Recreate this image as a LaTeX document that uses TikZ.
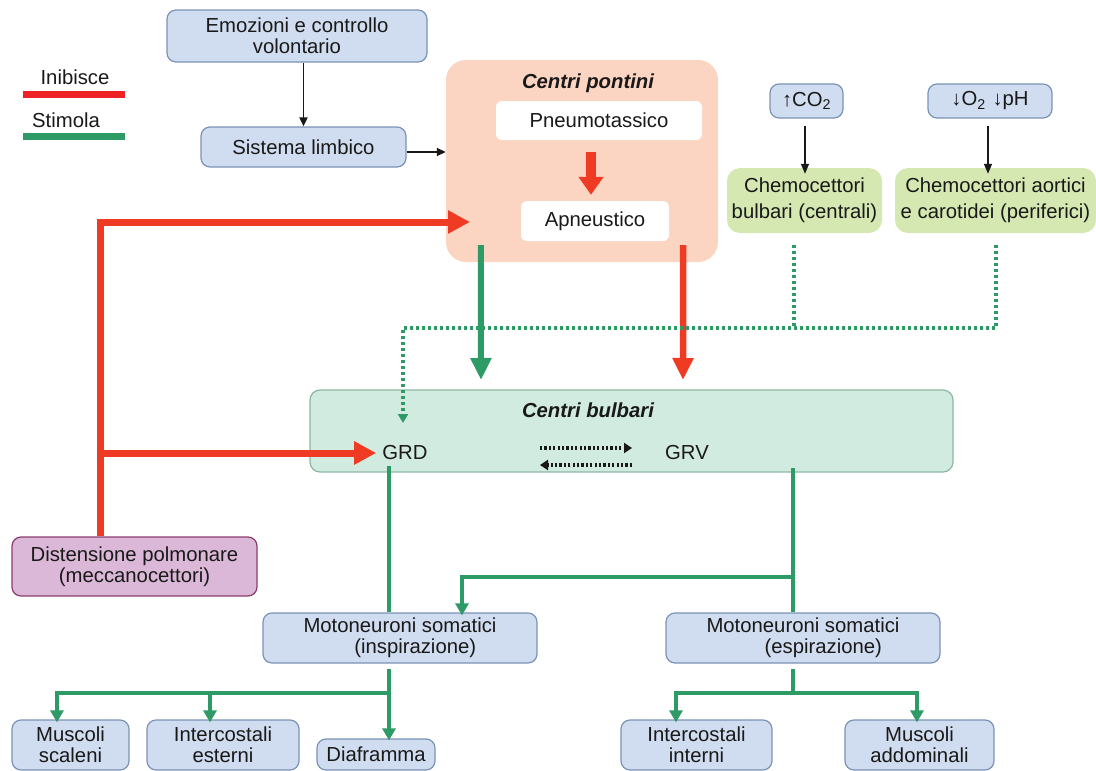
\documentclass[tikz,border=0pt]{standalone}
\usepackage{fontspec}
\setmainfont{Liberation Sans}
\usetikzlibrary{arrows.meta}
\definecolor{bfill}{HTML}{D0DCEF}
\definecolor{bdraw}{HTML}{7B93B6}
\definecolor{peach}{HTML}{FCD5C2}
\definecolor{chem}{HTML}{D5E8B1}
\definecolor{bulbfill}{HTML}{D2EBE0}
\definecolor{bulbdraw}{HTML}{8DB7A4}
\definecolor{distfill}{HTML}{DBB8D7}
\definecolor{distdraw}{HTML}{8A3D6E}
\definecolor{gline}{HTML}{2E9B67}
\definecolor{rline}{HTML}{EF3B24}
\definecolor{legred}{HTML}{EE2124}
\begin{document}
\begin{tikzpicture}[x=1pt,y=-1pt,
  txt/.style={font=\fontsize{20.3}{21}\selectfont, text=black!90, inner sep=0pt, align=center},
  bbox/.style={txt, draw=bdraw, line width=1.2pt, fill=bfill, rounded corners=9pt},
  wbox/.style={txt, fill=white, rounded corners=6pt},
  cbox/.style={txt, fill=chem, rounded corners=13pt, font=\fontsize{20.3}{26}\selectfont},
  blk/.style={line width=1.8pt, black!90, -{Triangle[width=8pt,length=9pt]}},
  gthin/.style={line width=4pt, gline},
  garr/.style={gthin, -{Triangle[width=13pt,length=12pt]}},
  gbig/.style={line width=6pt, gline, -{Triangle[width=20pt,length=22pt]}},
  rbig/.style={line width=6.5pt, rline, -{Triangle[width=20pt,length=22pt]}},
  rthick/.style={line width=7pt, rline},
  gdot/.style={line width=3.5pt, gline, dash pattern=on 3pt off 3pt},
  kdot/.style={line width=3.5pt, black!90, dash pattern=on 2.2pt off 2.2pt}]
\useasboundingbox (0,0) rectangle (1096,771);

% legend
\node[txt] (linib) at (75,77) {Inibisce};
\node[txt] (lstim) at (66,120) {Stimola};
\draw[line width=7pt, legred] (23,94) -- (125,94);
\draw[line width=7pt, gline] (23,136) -- (125,136);

% top left
\node[bbox, minimum width=260pt, minimum height=52pt] (emo) at (297,36) {Emozioni e controllo\\volontario};
\node[bbox, minimum width=205pt, minimum height=40pt] (limb) at (303.5,147) {Sistema limbico};

% pontini
\node[fill=peach, rounded corners=20pt, minimum width=272pt, minimum height=202pt, inner sep=0pt] (pont) at (582,161) {};
\node[txt, font=\fontsize{20.3}{21}\selectfont\bfseries\itshape] (pontlab) at (588,83) {Centri pontini};
\node[wbox, minimum width=206pt, minimum height=39pt] (pneu) at (599,120.5) {Pneumotassico};
\node[wbox, minimum width=148pt, minimum height=40pt] (apn) at (595,221) {Apneustico};
\draw[line width=10pt, rline, -{Triangle[width=24pt,length=18pt]}] ([yshift=-12pt]pneu.south -| 591,0) -- ([yshift=6pt]apn.north -| 591,0);

\draw[blk] (limb.north |- emo.south) -- (limb.north);
\draw[blk] (limb.east |- 0,152) -- (pont.west |- 0,152);

% chemoreceptors
\node[bbox, minimum width=73pt, minimum height=34pt] (co2) at (806.5,101) {↑CO\textsubscript{2}};
\node[bbox, minimum width=124pt, minimum height=34pt] (o2) at (990,101) {↓O\textsubscript{2}\,\,↓pH};
\node[cbox, minimum width=155pt, minimum height=65pt] (chb) at (804.5,200.5) {Chemocettori\\bulbari (centrali)};
\node[cbox, minimum width=201pt, minimum height=65pt] (cha) at (995.5,200.5) {Chemocettori aortici\\e carotidei (periferici)};
\draw[line width=1.4pt, black!90, -{Triangle[width=8pt,length=10pt]}] ([yshift=-7pt]co2.south -| 805,0) -- ([yshift=-6pt]chb.north -| 805,0);
\draw[line width=1.4pt, black!90, -{Triangle[width=8pt,length=10pt]}] ([yshift=-7pt]o2.south -| 988,0) -- ([yshift=-6pt]cha.north -| 988,0);

% bulbari
\node[txt, draw=bulbdraw, line width=1.2pt, fill=bulbfill, rounded corners=10pt, minimum width=643pt, minimum height=82pt] (bulb) at (631.5,431) {};
\node[txt, font=\fontsize{20.3}{21}\selectfont\bfseries\itshape] (bulblab) at (588,410) {Centri bulbari};
\node[txt] (grd) at (405,453) {GRD};
\node[txt] (grv) at (687,453) {GRV};
\draw[kdot, -{Triangle[width=10pt,length=8pt]}] (540,448) -- (632,448);
\draw[kdot, -{Triangle[width=10pt,length=8pt]}] (632,465) -- (540,465);

% pontini to bulbari
\draw[gbig] ([xshift=35pt, yshift=17pt]pont.south west) -- (481,380);
\draw[rbig] ([xshift=-35pt, yshift=17pt]pont.south east) -- (683,380);

% dotted chemo lines
\draw[gdot] ([yshift=-12pt]chb.south -| 794,0) -- (794,328);
\draw[gdot, -{Triangle[width=10pt,length=9pt]}] ([yshift=-12pt]cha.south -| 996,0) -- (996,328) -- (403,328) -- (403,423);

% distension
\node[bbox, draw=distdraw, fill=distfill, minimum width=245pt, minimum height=59pt] (dist) at (134.5,566.5) {Distensione polmonare\\(meccanocettori)};
\draw[rthick, -{Triangle[width=22pt,length=22pt]}] (dist.north -| 100,0) -- (100,222) -- (470,222);
\draw[rthick, -{Triangle[width=22pt,length=22pt]}] (grd.west -| 100,0) -- ([xshift=-6pt]grd.west);

% motoneurons
\node[bbox, minimum width=274pt, minimum height=50pt] (mi) at (400,638) {Motoneuroni somatici\\\hspace*{1.5em}(inspirazione)};
\node[bbox, minimum width=274pt, minimum height=50pt] (me) at (803,638) {Motoneuroni somatici\\\hspace*{2em}(espirazione)};
\draw[gthin] ([yshift=-6pt]grd.south -| 389,0) -- (mi.north -| 389,0);
\draw[gthin] (793,468) -- (me.north -| 793,0);
\draw[garr] (793,577) -- (462,577) -- ([yshift=-3pt]mi.north -| 462,0);

% muscles
\node[bbox, minimum width=117pt, minimum height=50pt] (ms) at (70.5,745) {Muscoli\\scaleni};
\node[bbox, minimum width=152pt, minimum height=50pt] (ie) at (223,745) {Intercostali\\esterni};
\node[bbox, minimum width=118pt, minimum height=31pt] (dia) at (376,754.5) {Diaframma};
\node[bbox, minimum width=151pt, minimum height=50pt] (ii) at (696.5,745) {Intercostali\\interni};
\node[bbox, minimum width=149pt, minimum height=50pt] (ma) at (919.5,745) {Muscoli\\addominali};

\draw[gthin] ([yshift=-5pt]mi.south -| 389,0) -- (389,693);
\draw[garr] (389,693) -- (57,693) -- ([yshift=-3pt]ms.north -| 57,0);
\draw[garr] (210,693) -- ([yshift=-3pt]ie.north -| 210,0);
\draw[garr] (389,693) -- ([yshift=-2pt]dia.north -| 389,0);

\draw[gthin] ([yshift=-5pt]me.south -| 793,0) -- (793,693);
\draw[garr] (793,693) -- (676,693) -- ([yshift=-3pt]ii.north -| 676,0);
\draw[garr] (793,693) -- (917,693) -- ([yshift=-3pt]ma.north -| 917,0);
\end{tikzpicture}
\end{document}
